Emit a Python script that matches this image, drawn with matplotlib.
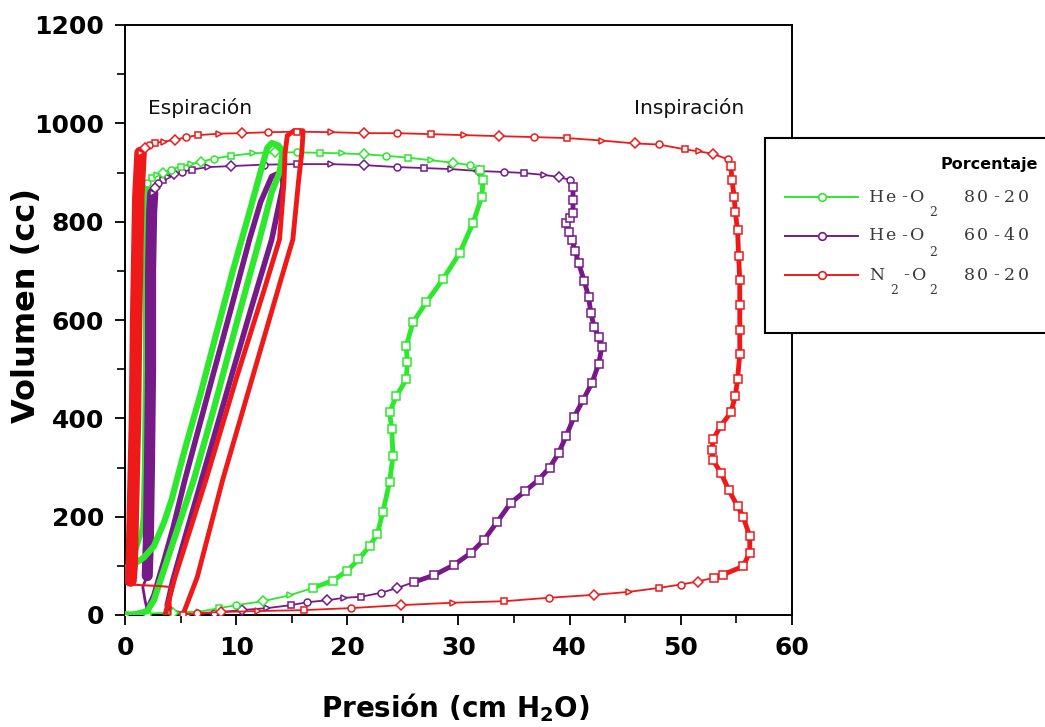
import numpy as np
import matplotlib.pyplot as plt
from matplotlib.lines import Line2D
from matplotlib.patches import Rectangle
from matplotlib.ticker import MultipleLocator

# Pressure-volume loops, (pressure cm H2O, volume cc), read segment by segment

# He-O2 80-20
green_top = [(31.9, 905), (31.0, 915), (29.5, 920), (27.5, 925), (25.5, 930), (23.5, 934),
             (21.5, 937), (19.5, 939), (17.5, 940), (15.5, 941), (13.5, 941), (11.5, 939),
             (9.5, 934), (8.0, 928), (6.8, 922), (5.9, 917), (5.0, 912), (4.1, 906),
             (3.4, 900), (2.9, 895), (2.4, 888), (2.0, 878)]
green_left = [(2.0, 878), (1.9, 840), (1.8, 700), (1.8, 500), (1.7, 300), (1.6, 200),
              (1.4, 160), (1.0, 130), (0.5, 108), (0.1, 97)]
green_diag = [(0.1, 97), (0.8, 103), (1.7, 117), (2.6, 140), (3.5, 188), (4.2, 235),
              (5.3, 330), (6.8, 450), (8.3, 580), (9.7, 700), (11.2, 820), (12.3, 910),
              (12.8, 950), (13.2, 960), (13.8, 955), (14.2, 943), (13.9, 900), (13.2, 860),
              (12.1, 764), (10.0, 590), (8.0, 420), (6.2, 276), (4.5, 160), (3.4, 85),
              (2.6, 30), (2.0, 8), (1.0, 2), (0.0, 0)]
green_bottom = [(0.0, 0), (2.0, 3), (4.3, 5), (6.7, 7), (8.5, 14), (10.0, 20), (12.4, 28),
                (14.8, 40), (16.9, 55)]
green_right = [(16.9, 55), (18.7, 70), (20.0, 90), (21.0, 113), (22.0, 140), (22.7, 165),
               (23.2, 210), (23.8, 270), (24.1, 323), (24.0, 378), (23.8, 412), (24.4, 445),
               (25.3, 479), (25.4, 514), (25.3, 547), (25.9, 595), (27.1, 636), (28.6, 683),
               (30.1, 736), (31.3, 797), (32.1, 851), (32.2, 885), (31.9, 905)]

# He-O2 60-40
purple_top = [(40.3, 870), (40.0, 885), (39.0, 891), (37.7, 895), (35.9, 899), (34.1, 901),
              (31.8, 903), (29.3, 907), (26.9, 909), (24.5, 911), (21.5, 915), (18.5, 917),
              (15.5, 917), (12.5, 916), (9.5, 913), (7.5, 911), (6.0, 906), (5.1, 901),
              (4.4, 896), (3.9, 891), (3.4, 885), (3.0, 878), (2.7, 868), (2.5, 858)]
purple_left = [(2.5, 858), (2.4, 820), (2.3, 700), (2.3, 500), (2.2, 300), (2.1, 150),
               (2.0, 80)]
purple_foot = [(2.0, 80), (1.6, 57), (1.8, 30), (2.0, 10)]
purple_diag = [(2.0, 10), (2.6, 40), (3.5, 110), (4.3, 175), (5.4, 276), (7.7, 470),
               (9.5, 620), (11.2, 764), (12.2, 840), (13.2, 892), (13.7, 897), (14.2, 885),
               (14.2, 872), (13.2, 764), (11.3, 620), (9.5, 480), (6.9, 276), (5.3, 150),
               (4.3, 70), (3.8, 20), (4.3, 5), (5.6, 0)]
purple_bottom = [(5.6, 0), (8.0, 5), (10.5, 10), (12.8, 14), (14.9, 20), (16.4, 26),
                 (18.2, 30), (19.7, 35), (21.2, 37), (23.0, 45), (24.5, 55), (26.0, 67)]
purple_right = [(26.0, 67), (27.8, 81), (29.6, 102), (31.1, 126), (32.3, 153), (33.5, 190),
                (34.7, 228), (36.0, 252), (37.2, 275), (38.2, 300), (39.0, 329), (39.7, 365),
                (40.4, 403), (41.2, 437), (42.0, 472), (42.6, 510), (42.9, 545), (42.6, 566),
                (42.2, 586), (41.9, 615), (41.7, 647), (41.3, 680), (40.8, 716), (40.5, 740),
                (40.2, 763), (39.9, 780), (39.7, 797), (40.0, 808), (40.3, 818), (40.3, 845),
                (40.3, 870)]

# N2-O2 80-20
red_top = [(54.5, 913), (54.2, 927), (52.9, 938), (51.6, 943), (50.4, 947), (48.0, 957),
           (45.9, 959), (42.9, 965), (39.8, 970), (36.8, 972), (33.6, 974), (30.5, 976),
           (27.5, 978), (24.5, 980), (21.5, 980), (18.5, 982), (15.5, 983), (12.9, 982),
           (10.5, 980), (8.5, 979), (6.6, 976), (5.5, 972), (4.5, 966), (3.5, 963),
           (2.7, 960), (2.2, 956), (1.8, 950), (1.4, 940)]
red_left = [(1.4, 940), (1.2, 850), (1.0, 600), (0.9, 400), (0.7, 200), (0.6, 100), (0.5, 70)]
red_foot = [(0.5, 70), (0.3, 62), (1.2, 61), (2.1, 60), (3.0, 59), (4.1, 57), (4.1, 0),
            (3.6, 0)]
red_diag = [(3.6, 0), (4.5, 77), (7.3, 276), (10.0, 480), (12.5, 660), (13.9, 764),
            (14.3, 880), (14.4, 940), (14.6, 975), (15.2, 985), (16.0, 985), (16.0, 975),
            (15.9, 940), (15.6, 880), (15.1, 764), (14.0, 680), (11.9, 517), (8.8, 276),
            (6.5, 77), (5.2, 0)]
red_bottom = [(5.2, 0), (6.5, 4), (8.6, 6), (12.0, 8), (16.1, 10), (20.3, 14), (24.8, 20),
              (29.5, 25), (34.1, 28), (38.1, 35), (42.2, 41), (45.3, 47), (48.0, 55),
              (50.0, 62), (51.5, 68), (53.0, 76)]
red_right = [(53.0, 76), (53.8, 82), (55.6, 99), (56.2, 127), (56.2, 160), (55.6, 200),
             (55.1, 221), (54.3, 255), (53.6, 289), (52.9, 315), (52.8, 335), (52.9, 357),
             (53.6, 385), (54.5, 412), (54.9, 445), (55.1, 479), (55.3, 530), (55.3, 580),
             (55.3, 630), (55.3, 681), (55.2, 730), (55.1, 783), (54.9, 820), (54.8, 850),
             (54.6, 885), (54.5, 913)]

gas_labels = [('He-O', '2', '', '80-20'), ('He-O', '2', '', '60-40'), ('N', '2', '-O', '80-20')]

GREEN = '#2ee82e'
PURPLE = '#761a88'
RED = '#ee1a1a'
SHAPES = ['s', 'o', 'D', '>']


def xy(points):
    arr = np.array(points, dtype=float)
    return arr[:, 0], arr[:, 1]


def sparse(ax, points, color, z=3):
    p, v = xy(points)
    ax.plot(p, v, '-', color=color, lw=1.3, zorder=z)
    for k, m in enumerate(SHAPES):
        ax.plot(p[k::4], v[k::4], ls='none', marker=m, ms=5, mfc='white',
                mec=color, mew=1.1, zorder=z + 0.1)


def dense(ax, points, color, lw, ms=0, z=3):
    p, v = xy(points)
    ax.plot(p, v, '-', color=color, lw=lw, solid_joinstyle='round',
            solid_capstyle='round', zorder=z)
    if ms:
        ax.plot(p, v, ls='none', marker='s', ms=ms, mfc='white', mec=color,
                mew=1.1, zorder=z + 0.1)


fig = plt.figure(figsize=(10.45, 7.27), dpi=100)
ax = fig.add_axes([125 / 1045, 1 - 615 / 727, 667 / 1045, 590 / 727])

# purple loops
sparse(ax, purple_top, PURPLE)
sparse(ax, purple_bottom, PURPLE)
dense(ax, purple_right, PURPLE, 3.5, ms=6)
dense(ax, purple_left, PURPLE, 8.0)
dense(ax, purple_foot, PURPLE, 2.0)
dense(ax, purple_diag, PURPLE, 4.0, z=4)

# green loops
sparse(ax, green_top, GREEN, z=4)
sparse(ax, green_bottom, GREEN, z=4)
dense(ax, green_right, GREEN, 3.5, ms=6, z=4)
dense(ax, green_left, GREEN, 3.0, z=2)
dense(ax, green_diag, GREEN, 4.5, z=5)

# red loops
sparse(ax, red_top, RED, z=5)
sparse(ax, red_bottom, RED, z=5)
dense(ax, red_right, RED, 3.5, ms=6, z=5)
dense(ax, red_left, RED, 9.0, z=5)
dense(ax, red_foot, RED, 1.5, z=5)
dense(ax, red_diag, RED, 3.5, z=5)

ax.set_xlim(0, 60)
ax.set_ylim(0, 1200)
ax.xaxis.set_major_locator(MultipleLocator(10))
ax.xaxis.set_minor_locator(MultipleLocator(5))
ax.yaxis.set_major_locator(MultipleLocator(200))
ax.yaxis.set_minor_locator(MultipleLocator(100))
ax.tick_params(which='major', length=7, width=1.3, direction='out', pad=8)
ax.tick_params(which='minor', length=6, width=1.2, direction='out')
for lab in ax.get_xticklabels() + ax.get_yticklabels():
    lab.set_fontsize(18)
    lab.set_fontweight('bold')
for s in ax.spines.values():
    s.set_linewidth(1.4)

ax.set_ylabel('Volumen (cc)', fontsize=23, fontweight='bold', va='center')
ax.yaxis.set_label_coords(-0.148, 0.525)
fig.text(455 / 1045, 1 - 708 / 727, r'Presión (cm H$_\mathbf{2}$O)', fontsize=20,
         fontweight='bold', ha='center', va='center')

ax.text(2.1, 1031, 'Espiración', fontsize=14.5, ha='left', va='center', color='#111111')
ax.text(45.8, 1031, 'Inspiración', fontsize=14.5, ha='left', va='center', color='#111111')

# legend box, hand built so that it runs off the right edge
fx = lambda px: px / 1045
fy = lambda py: 1 - py / 727
fig.add_artist(Rectangle((fx(765), fy(333)), fx(400), fy(138) - fy(333),
                         transform=fig.transFigure, fc='white', ec='black', lw=1.5))
fig.text(fx(940), fy(165), 'Porcentaje', fontsize=11.5, fontweight='bold',
         ha='left', va='center')


def spaced(px, py, s, pitch=13.5, size=12.5):
    for i, ch in enumerate(s):
        fig.text(fx(px + i * pitch), fy(py), ch, family='DejaVu Serif', fontsize=size,
                 ha='center', va='center', color='#3a3a3a')


for (head, sub, mid, pct), color, py in zip(gas_labels, [GREEN, PURPLE, RED], [197, 236, 275]):
    fig.add_artist(Line2D([fx(785), fx(858)], [fy(py), fy(py)], transform=fig.transFigure,
                          color=color, lw=1.4))
    fig.add_artist(Line2D([fx(822)], [fy(py)], transform=fig.transFigure, marker='o',
                          ms=5.5, mfc='white', mec=color, mew=1.2))
    spaced(877, py, head)
    if mid:
        spaced(894, py + 16, sub, size=9)
        spaced(906, py, mid)
        spaced(933, py + 16, sub, size=9)
    else:
        spaced(933, py + 16, sub, size=9)
    spaced(969, py, pct)

fig.savefig('out.png', dpi=100)
